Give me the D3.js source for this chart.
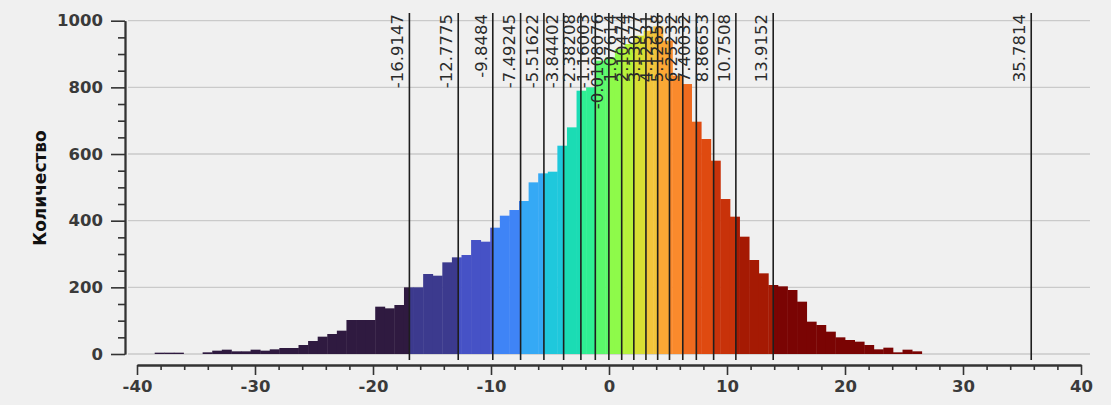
<!DOCTYPE html>
<html><head><meta charset="utf-8">
<script src="https://cdn.jsdelivr.net/npm/d3@7"></script>
<style>
html,body{margin:0;padding:0;background:#f0f0f0;}
svg{display:block;}
</style></head>
<body>
<script>
// ---- data ----
const binStart = -38.5;
const binWidth = 0.8125;
const counts = [
  4,4,4,0,0,
  5,10,13,8,8,
  13,10,14,18,18,
  27,39,52,60,70,
  102,102,102,142,137,
  147,200,200,240,235,
  275,290,297,342,337,
  379,415,432,459,515,
  542,547,625,680,790,
  800,880,890,915,930,
  955,970,983,940,835,
  810,697,645,580,465,
  412,352,282,242,207,
  203,192,157,97,87,
  67,50,42,37,27,
  14,19,5,13,8
];
const breaks = [-16.9147,-12.7775,-9.8484,-7.49245,-5.51622,-3.84402,-2.38208,-1.16003,-0.0108076,
  1.07614,2.10474,3.13077,4.12531,5.12658,6.25232,7.40032,8.86653,10.7508,13.9152,35.7814];
const breakLabels = ["-16.9147","-12.7775","-9.8484","-7.49245","-5.51622","-3.84402","-2.38208","-1.16003","-0.0108076",
  "1.07614","2.10474","3.13077","4.12531","5.12658","6.25232","7.40032","8.86653","10.7508","13.9152","35.7814"];
const classColors = ["#2f1a40","#3c3a8e","#4652c6","#3f84f6","#35a9f5","#1fc8dc","#1bdcb4","#2ff093","#5af86a",
  "#8efa4a","#b6f23a","#d8de34","#f2c33a","#fca835","#fa8a2c","#ef6a1f","#df4a10","#c8320a","#a51a03","#7a0403","#7a0403"];
const xTicks = [-40,-30,-20,-10,0,10,20,30,40];
const yTicks = [0,200,400,600,800,1000];
const yTitle = "Количество";

// ---- chart ----
const W = 1111, H = 405;
const svg = d3.select("body").append("svg").attr("width", W).attr("height", H);
const x = d3.scaleLinear().domain([-40, 40]).range([137, 1081]);
const y = d3.scaleLinear().domain([0, 1000]).range([354, 20.7]);
const fmt = d => String(d);

// grid
svg.append("g").selectAll("line").data(yTicks).join("line")
  .attr("x1", 128).attr("x2", 1090)
  .attr("y1", d => y(d)).attr("y2", d => y(d))
  .attr("stroke", "#cacaca").attr("stroke-width", 1.3);

// bars split by class breaks
const segs = [];
counts.forEach((c, i) => {
  if (!c) return;
  const a = binStart + i * binWidth, b = a + binWidth;
  const cuts = [a, ...breaks.filter(v => v > a && v < b), b];
  for (let k = 0; k < cuts.length - 1; k++) {
    const mid = (cuts[k] + cuts[k + 1]) / 2;
    segs.push({ x0: cuts[k], x1: cuts[k + 1], c, cls: d3.bisectRight(breaks, mid) });
  }
});
svg.append("g").selectAll("rect").data(segs).join("rect")
  .attr("x", d => x(d.x0))
  .attr("width", d => x(d.x1) - x(d.x0) + 0.4)
  .attr("y", d => y(d.c))
  .attr("height", d => y(0) - y(d.c))
  .attr("fill", d => classColors[d.cls]);

// break lines + labels
const bg = svg.append("g");
bg.selectAll("line").data(breaks).join("line")
  .attr("x1", d => x(d)).attr("x2", d => x(d))
  .attr("y1", 13).attr("y2", 360)
  .attr("stroke", "#1e1e1e").attr("stroke-width", 1.6);
bg.selectAll("text").data(breaks).join("text")
  .attr("transform", d => `translate(${x(d) - 6},14) rotate(-90)`)
  .attr("text-anchor", "end")
  .attr("font-family", "DejaVu Sans, sans-serif")
  .attr("font-size", 16.5)
  .attr("fill", "#2a2a2a")
  .text((d, i) => breakLabels[i]);

// axes
function styleAxis(g) {
  g.select(".domain").attr("stroke", "#333").attr("stroke-width", 1.8);
  g.selectAll(".tick line").attr("stroke", "#333").attr("stroke-width", 1.6);
  g.selectAll(".tick text").attr("font-family", "DejaVu Sans, sans-serif")
    .attr("font-weight", "bold").attr("font-size", 16.5).attr("fill", "#3a3a3a");
}
const yMinor = d3.range(0, 1001, 50).filter(v => v % 200 !== 0);
svg.append("g").attr("transform", "translate(125,0)")
  .call(d3.axisLeft(y).tickValues(yMinor).tickSize(7).tickSizeOuter(0).tickFormat(""))
  .call(styleAxis);
svg.append("g").attr("transform", "translate(125,0)")
  .call(d3.axisLeft(y).tickValues(yTicks).tickSize(14).tickPadding(8).tickSizeOuter(0).tickFormat(fmt))
  .call(styleAxis);

const xMinor = d3.range(-40, 41, 2).filter(v => v % 10 !== 0);
svg.append("g").attr("transform", "translate(0,365)")
  .call(d3.axisBottom(x).tickValues(xMinor).tickSize(5).tickSizeOuter(0).tickFormat(""))
  .call(styleAxis);
svg.append("g").attr("transform", "translate(0,365)")
  .call(d3.axisBottom(x).tickValues(xTicks).tickSize(10).tickPadding(5).tickSizeOuter(0).tickFormat(fmt))
  .call(styleAxis);

// y title
svg.append("text")
  .attr("transform", "translate(46,188) rotate(-90)")
  .attr("text-anchor", "middle")
  .attr("font-family", "DejaVu Sans, sans-serif")
  .attr("font-weight", "bold").attr("font-size", 17)
  .attr("fill", "#111")
  .text(yTitle);
</script>
</body></html>
